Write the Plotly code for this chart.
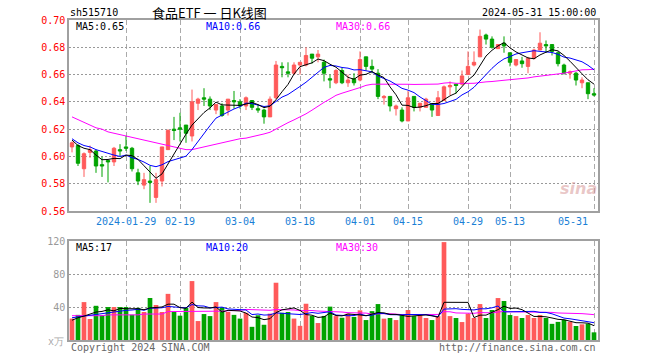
import plotly.graph_objects as go
import pandas as pd

# ---------------- data ----------------
opens = [0.607, 0.608, 0.591, 0.603, 0.604, 0.594, 0.597, 0.596, 0.605, 0.607,
         0.606, 0.588, 0.579, 0.582, 0.570, 0.582, 0.605, 0.620, 0.621, 0.623,
         0.615, 0.639, 0.643, 0.642, 0.634, 0.637, 0.634, 0.641, 0.640, 0.637,
         0.641, 0.635, 0.634, 0.629, 0.643, 0.666, 0.662, 0.661, 0.667, 0.667,
         0.675, 0.673, 0.669, 0.657, 0.654, 0.663, 0.654, 0.657, 0.656, 0.673,
         0.666, 0.661, 0.643, 0.644, 0.635, 0.634, 0.626, 0.644, 0.636, 0.636,
         0.638, 0.630, 0.641, 0.651, 0.653, 0.653, 0.660, 0.667, 0.673, 0.689,
         0.686, 0.679, 0.683, 0.676, 0.667, 0.670, 0.666, 0.672, 0.678, 0.682,
         0.682, 0.676, 0.667, 0.661, 0.661, 0.654, 0.654, 0.646]
highs = [0.611, 0.609, 0.603, 0.608, 0.605, 0.600, 0.597, 0.607, 0.609, 0.615,
         0.607, 0.591, 0.588, 0.593, 0.588, 0.607, 0.620, 0.629, 0.632, 0.623,
         0.649, 0.643, 0.650, 0.644, 0.638, 0.639, 0.642, 0.648, 0.642, 0.644,
         0.641, 0.638, 0.635, 0.644, 0.670, 0.669, 0.669, 0.669, 0.669, 0.680,
         0.675, 0.678, 0.671, 0.660, 0.664, 0.665, 0.660, 0.661, 0.677, 0.673,
         0.671, 0.664, 0.645, 0.644, 0.638, 0.636, 0.648, 0.644, 0.639, 0.643,
         0.639, 0.648, 0.652, 0.655, 0.653, 0.663, 0.677, 0.677, 0.693, 0.690,
         0.688, 0.682, 0.688, 0.676, 0.671, 0.673, 0.673, 0.679, 0.691, 0.685,
         0.682, 0.677, 0.668, 0.663, 0.662, 0.658, 0.654, 0.650]
lows = [0.603, 0.593, 0.585, 0.599, 0.588, 0.585, 0.581, 0.593, 0.600, 0.604,
        0.589, 0.579, 0.576, 0.566, 0.566, 0.578, 0.605, 0.612, 0.611, 0.610,
        0.611, 0.634, 0.637, 0.634, 0.631, 0.629, 0.630, 0.635, 0.635, 0.634,
        0.634, 0.632, 0.624, 0.629, 0.642, 0.658, 0.658, 0.660, 0.660, 0.666,
        0.668, 0.669, 0.655, 0.650, 0.653, 0.653, 0.651, 0.652, 0.655, 0.663,
        0.661, 0.642, 0.638, 0.633, 0.630, 0.625, 0.626, 0.633, 0.633, 0.636,
        0.629, 0.630, 0.641, 0.645, 0.646, 0.652, 0.660, 0.666, 0.673, 0.682,
        0.679, 0.679, 0.676, 0.666, 0.666, 0.665, 0.661, 0.671, 0.678, 0.676,
        0.674, 0.666, 0.660, 0.657, 0.652, 0.650, 0.642, 0.644]
closes = [0.610, 0.595, 0.602, 0.605, 0.593, 0.593, 0.596, 0.606, 0.604, 0.606,
          0.591, 0.582, 0.583, 0.581, 0.583, 0.607, 0.619, 0.619, 0.620, 0.617,
          0.640, 0.642, 0.642, 0.637, 0.638, 0.630, 0.642, 0.640, 0.637, 0.643,
          0.636, 0.634, 0.629, 0.642, 0.667, 0.665, 0.661, 0.667, 0.669, 0.674,
          0.672, 0.675, 0.661, 0.656, 0.663, 0.654, 0.656, 0.654, 0.671, 0.666,
          0.664, 0.644, 0.644, 0.637, 0.637, 0.626, 0.643, 0.636, 0.639, 0.642,
          0.634, 0.643, 0.651, 0.652, 0.652, 0.659, 0.666, 0.669, 0.688, 0.686,
          0.680, 0.682, 0.681, 0.669, 0.671, 0.668, 0.672, 0.678, 0.683, 0.681,
          0.677, 0.668, 0.661, 0.662, 0.656, 0.656, 0.646, 0.645]
volumes = [26, 30.5, 46, 25.5, 41.5, 30, 40, 40, 40, 40,
           30.7, 39, 34, 51, 42.5, 34, 56, 34, 29.5, 39,
           71.5, 23, 31.5, 29, 46, 39.6, 34, 30.5, 26, 33,
           16, 30, 18.5, 32, 69.5, 33, 34, 26, 17.2, 44,
           29.2, 20.6, 29.2, 40.5, 29, 27, 32, 28, 36, 24.2,
           35, 43.6, 25.9, 26.7, 24.2, 30, 36.4, 29, 30, 26.7,
           24.2, 29, 118.8, 29, 26.7, 21.8, 32, 26.7, 43.6, 26.7,
           36.4, 50.9, 47.3, 30.3, 29, 26.7, 30.3, 26.7, 30.3, 26.7,
           19.6, 22, 24.4, 22, 17, 19, 19.8, 9.3]

# moving-average values before a full window exists
ma5_head = [0.612, 0.608, 0.606, 0.605]
ma10_head = [0.613, 0.610, 0.608, 0.607, 0.605, 0.6035, 0.602, 0.601, 0.600]
ma30_head = [0.629, 0.627, 0.625, 0.623, 0.621, 0.620, 0.618, 0.617, 0.616, 0.615,
             0.614, 0.613, 0.612, 0.611, 0.610, 0.609, 0.608, 0.607, 0.606, 0.605,
             0.605, 0.606, 0.607, 0.608, 0.609, 0.610, 0.611, 0.612, 0.613]
vma5_head = [24, 27, 29, 31]
vma10_head = [27, 28, 29.5, 30.5, 31.5, 32.5, 33.5, 34.5, 35.5]
vma30_head = [29.5, 29.5, 29.5, 29.5, 29.5, 29.5, 30.5, 30.5, 30.5, 30.5,
              30.5, 30.5, 31.5, 31.5, 31.5, 31.5, 34.5, 34.5, 34.5, 34.5,
              34.5, 34.5, 35, 35, 35, 35, 35.5, 35.5, 36]

tick_labels = ["2024-01-29", "02-19", "03-04", "03-18", "04-01", "04-15", "04-29", "05-13", "05-31"]
tick_index = [9, 18, 28, 38, 48, 56, 66, 73, 87]
price_ticks = [0.56, 0.58, 0.60, 0.62, 0.64, 0.66, 0.68, 0.70]
vol_ticks = [40, 80, 120]

# ---------------- derived ----------------
n = len(closes)
xs = list(range(n))


def rolling(vals, w, head):
    r = pd.Series(vals).rolling(w).mean().tolist()
    return head + r[len(head):]


ma5 = rolling(closes, 5, ma5_head)
ma10 = rolling(closes, 10, ma10_head)
ma30 = rolling(closes, 30, ma30_head)
vma5 = rolling(volumes, 5, vma5_head)
vma10 = rolling(volumes, 10, vma10_head)
vma30 = rolling(volumes, 30, vma30_head)

RED = "#ff5a5a"
GREEN = "#00a300"
vol_colors = [RED if c > o else GREEN for o, c in zip(opens, closes)]

MONO = "DejaVu Sans Mono"

fig = go.Figure()
fig.add_trace(go.Candlestick(
    x=xs, open=opens, high=highs, low=lows, close=closes,
    increasing=dict(line=dict(color=RED, width=1), fillcolor=RED),
    decreasing=dict(line=dict(color=GREEN, width=1), fillcolor=GREEN),
    whiskerwidth=0, xaxis="x", yaxis="y", hoverinfo="skip"))
for vals, col in [(ma30, "#ff00ff"), (ma10, "#0000ff"), (ma5, "#000000")]:
    fig.add_trace(go.Scatter(x=xs, y=vals, mode="lines", line=dict(color=col, width=1),
                             xaxis="x", yaxis="y", hoverinfo="skip"))

fig.add_trace(go.Bar(x=xs, y=volumes, marker=dict(color=vol_colors, line=dict(width=0)),
                     width=0.78, xaxis="x2", yaxis="y2", hoverinfo="skip"))
for vals, col in [(vma30, "#ff00ff"), (vma10, "#0000ff"), (vma5, "#000000")]:
    fig.add_trace(go.Scatter(x=xs, y=vals, mode="lines", line=dict(color=col, width=1),
                             xaxis="x2", yaxis="y2", hoverinfo="skip"))

xr = [-0.5, -0.5 + 529 / 6]
axis_common = dict(showline=True, mirror=True, linecolor="#a0a0a0", linewidth=1.5,
                   zeroline=False, ticks="", fixedrange=True)
fig.update_layout(
    width=660, height=360,
    margin=dict(l=69, r=62, t=20, b=20),
    paper_bgcolor="white", plot_bgcolor="white",
    showlegend=False, boxgap=0.2,
    xaxis=dict(domain=[0, 1], range=xr, anchor="y", tickvals=tick_index, showticklabels=False,
               showgrid=True, gridcolor="#aaaaaa", griddash="5px,3px", gridwidth=1,
               rangeslider=dict(visible=False), **axis_common),
    yaxis=dict(domain=[0.403, 1], range=[0.56, 0.70], anchor="x", tickvals=price_ticks,
               ticktext=["%.2f" % v for v in price_ticks],
               tickfont=dict(family=MONO, size=10, color="#ff0000"),
               showgrid=True, gridcolor="#999999", griddash="2px,2px", gridwidth=1, **axis_common),
    xaxis2=dict(domain=[0, 1], range=xr, anchor="y2", tickvals=tick_index, showticklabels=False,
                showgrid=True, gridcolor="#aaaaaa", griddash="5px,3px", gridwidth=1, **axis_common),
    yaxis2=dict(domain=[0, 0.309], range=[0, 120], anchor="x2", tickvals=vol_ticks,
                tickfont=dict(family=MONO, size=10, color="#999999"),
                showgrid=True, gridcolor="#999999", griddash="2px,2px", gridwidth=1, **axis_common),
)


def paper_y(py):
    return (340 - py) / 320


def paper_x(px):
    return (px - 69) / 529


ann = []


def txt(text, x, y, color="#000000", size=10, family=MONO, xanchor="left", xref="paper", xshift=0):
    ann.append(dict(text=text, x=x, y=y, xref=xref, yref="paper", showarrow=False,
                    xanchor=xanchor, yanchor="middle", xshift=xshift,
                    font=dict(family=family, size=size, color=color)))


txt("sh515710", paper_x(68), paper_y(12), size=10)
txt("食品ETF\u00a0一\u00a0日K线图", paper_x(150), paper_y(12), size=13, family="Noto Sans CJK SC")
txt("2024-05-31 15:00:00", 1.0, paper_y(12), xanchor="right", size=10)

txt("MA5:0.65", paper_x(74), paper_y(27))
txt("MA10:0.66", paper_x(204), paper_y(27), color="#0000ff")
txt("MA30:0.66", paper_x(334), paper_y(27), color="#ff00ff")
txt("MA5:17", paper_x(74), paper_y(247))
txt("MA10:20", paper_x(204), paper_y(247), color="#0000ff")
txt("MA30:30", paper_x(334), paper_y(247), color="#ff00ff")

for lab, i in zip(tick_labels, tick_index):
    if i == tick_index[-1]:
        txt(lab, i, paper_y(221), color="#1a7fd6", xanchor="right", xref="x", xshift=-4)
    else:
        txt(lab, i, paper_y(221), color="#1a7fd6", xanchor="center", xref="x")

txt("x万", paper_x(66), paper_y(341), color="#aaaaaa", xanchor="right")
txt("Copyright 2024 SINA.COM", 0.0, paper_y(347), color="#666666")
txt("http://finance.sina.com.cn", 1.0, paper_y(347), color="#666666", xanchor="right")
ann.append(dict(text="<b><i>sina</i></b>", x=paper_x(578), y=paper_y(188), xref="paper", yref="paper",
                showarrow=False, xanchor="center", yanchor="middle",
                font=dict(family="DejaVu Sans", size=16, color="rgba(215,150,150,0.55)")))

fig.update_layout(annotations=ann)
fig.write_html("out.html", config={"displayModeBar": False},
               post_script="document.body.style.margin='0px';")
